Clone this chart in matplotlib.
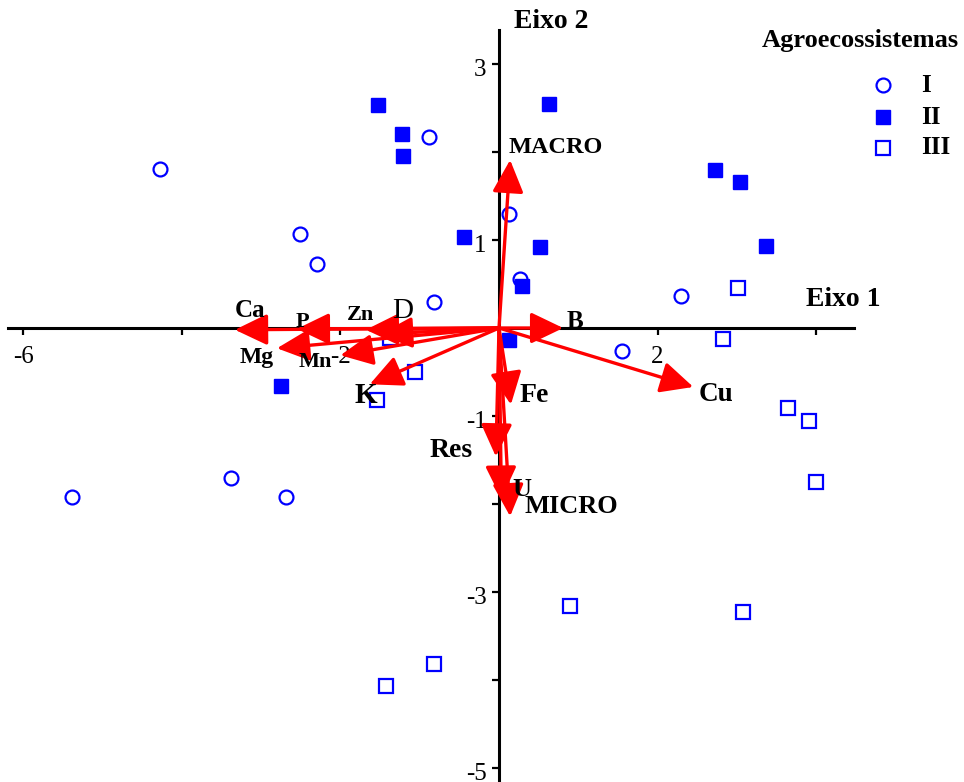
import matplotlib
matplotlib.use("Agg")
import matplotlib.pyplot as plt
from matplotlib.lines import Line2D
from matplotlib.transforms import ScaledTranslation

plt.rcParams['font.family'] = ['Liberation Serif', 'DejaVu Serif']
plt.rcParams['axes.unicode_minus'] = False

# scores of the samples, one list per agroecosystem
x_I = [-4.27, -0.88, -2.51, -2.30, -0.82, 0.13, 0.26, 2.30, 1.55, -5.38, -3.38, -2.68]
y_I = [1.81, 2.17, 1.07, 0.73, 0.29, 1.30, 0.56, 0.36, -0.26, -1.92, -1.71, -1.92]

x_II = [-1.53, -1.22, -1.21, -0.44, 0.63, 0.52, 0.29, 2.72, 3.04, 3.37, -2.75, 0.12]
y_II = [2.53, 2.20, 1.96, 1.03, 2.55, 0.92, 0.48, 1.79, 1.66, 0.93, -0.66, -0.14]

x_III = [3.01, 2.82, -1.37, -1.06, -1.54, 3.65, 3.91, 4.00, 0.90, 3.08, -0.82, -1.43]
y_III = [0.46, -0.12, -0.11, -0.50, -0.82, -0.91, -1.06, -1.75, -3.16, -3.23, -3.82, -4.07]

# variable vectors (tips) and where their names sit
var_names = ['Ca', 'P', 'Zn', 'D', 'Mg', 'Mn', 'K', 'B', 'Cu', 'Fe', 'Res', 'U', 'MICRO', 'MACRO']
var_x = [-3.33, -2.55, -1.68, -1.50, -2.80, -2.00, -1.63, 0.81, 2.45, 0.15, -0.04, 0.03, 0.14, 0.14]
var_y = [-0.02, -0.01, -0.02, -0.07, -0.23, -0.31, -0.64, 0.00, -0.67, -0.87, -1.46, -1.94, -2.14, 1.91]
lab_x = [-3.14, -2.48, -1.75, -1.21, -3.05, -2.32, -1.68, 0.96, 2.74, 0.44, -0.61, 0.29, 0.91, 0.72]
lab_y = [0.20, 0.07, 0.15, 0.19, -0.33, -0.39, -0.77, 0.07, -0.76, -0.77, -1.39, -1.84, -2.03, 2.05]
lab_size = [18, 16, 16, 21, 17, 16, 21, 18, 19.5, 20, 20, 19, 19, 17.5]

groups = ['I', 'II', 'III']

fig = plt.figure(figsize=(9.64, 7.82), dpi=100)
W, H = 964, 782
ax = fig.add_axes([8.1 / W, -3.6 / H, 846.2 / W, 755.9 / H])
ax.set_xlim(-6.19, 4.48)
ax.set_ylim(-5.2, 3.39)

blue = '#0000ff'
ax.plot(x_I, y_I, 'o', ls='none', ms=10, mfc='none', mec=blue, mew=1.6, clip_on=False, zorder=3)
ax.plot(x_II, y_II, 's', ls='none', ms=10, mfc=blue, mec=blue, mew=1, clip_on=False, zorder=3)
ax.plot(x_III, y_III, 's', ls='none', ms=9.5, mfc='none', mec=blue, mew=1.6, clip_on=False, zorder=3)

for name, tx, ty, lx, ly, fs in zip(var_names, var_x, var_y, lab_x, lab_y, lab_size):
    ax.annotate('', xy=(tx, ty), xytext=(0, 0),
                arrowprops=dict(arrowstyle='-|>,head_length=1.0,head_width=0.48',
                                mutation_scale=20, color='red', lw=2.4,
                                shrinkA=0, shrinkB=0), zorder=4)
    ax.text(lx, ly, name, fontsize=fs, ha='center', va='center',
            fontweight='normal' if name == 'D' else 'bold', zorder=5)

# axes through the origin
for s in ['top', 'right']:
    ax.spines[s].set_visible(False)
for s in ['left', 'bottom']:
    ax.spines[s].set_position(('data', 0))
    ax.spines[s].set_linewidth(2.2)
ax.set_xticks([-6, -4, -2, 0, 2, 4])
ax.set_xticklabels(['-6', '', '-2', '', '2', ''])
ax.set_yticks([3, 2, 1, 0, -1, -2, -3, -4, -5])
ax.set_yticklabels(['3', '', '1', '', '-1', '', '-3', '', '-5'])
ax.tick_params(axis='both', length=5, width=1.6, labelsize=18)
ax.tick_params(axis='x', pad=8)
ax.tick_params(axis='y', pad=4)
off = ScaledTranslation(0, -3 / 100, fig.dpi_scale_trans)
for lbl in ax.get_yticklabels():
    lbl.set_transform(lbl.get_transform() + off)

fig.text(843 / W, 1 - 300 / H, 'Eixo 1', fontsize=20, fontweight='bold', ha='center', va='center')
fig.text(551 / W, 1 - 22 / H, 'Eixo 2', fontsize=20, fontweight='bold', ha='center', va='center')

# legend
fig.text(860 / W, 1 - 40 / H, 'Agroecossistemas', fontsize=19, fontweight='bold', ha='center', va='center')
leg_y = [85, 117, 148]
styles = [dict(marker='o', mfc='none', mew=1.6, ms=10),
          dict(marker='s', mfc=blue, mew=1, ms=10),
          dict(marker='s', mfc='none', mew=1.6, ms=9.5)]
for g, py, st in zip(groups, leg_y, styles):
    fig.add_artist(Line2D([883 / W], [1 - py / H], ls='none', mec=blue, **st))
    fig.text(921 / W, 1 - py / H, g, fontsize=18, fontweight='bold', ha='left', va='center')

fig.savefig('out.png', dpi=100)
